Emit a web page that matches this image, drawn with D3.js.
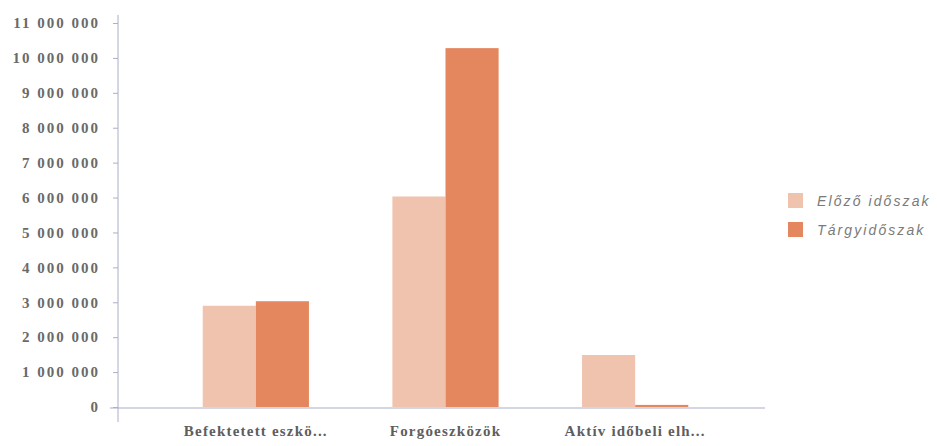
<!DOCTYPE html>
<html>
<head>
<meta charset="utf-8">
<script src="https://cdn.jsdelivr.net/npm/d3@7"></script>
<style>
  body { margin: 0; background: #fff; }
  svg { display: block; }
</style>
</head>
<body>
<div id="chart"></div>
<script>
var categories = ["Befektetett eszkö...", "Forgóeszközök", "Aktív időbeli elh..."];
var seriesNames = ["Előző időszak", "Tárgyidőszak"];
var previous = [2900000, 6030000, 1490000];
var current = [3030000, 10280000, 60000];
var yTicks = [0, 1000000, 2000000, 3000000, 4000000, 5000000, 6000000,
              7000000, 8000000, 9000000, 10000000, 11000000];
var colors = ["#efc3ad", "#e4875f"];

var width = 937, height = 446;

var svg = d3.select("#chart").append("svg")
    .attr("width", width)
    .attr("height", height);

var y = d3.scaleLinear().domain([0, 11000000]).range([407, 23]);

var x0 = d3.scaleBand()
    .domain(categories)
    .range([161, 730])
    .paddingInner(0.44)
    .paddingOuter(0.22);

var x1 = d3.scaleBand()
    .domain(seriesNames)
    .range([0, x0.bandwidth()]);

var loc = d3.formatLocale({decimal: ",", thousands: " ", grouping: [3], currency: ["", ""]});
var fmt = loc.format(",d");

// y axis
var yAxis = svg.append("g")
    .attr("transform", "translate(118,0)")
    .call(d3.axisLeft(y).tickValues(yTicks).tickFormat(fmt).tickSize(5).tickPadding(13));
yAxis.select(".domain").remove();
yAxis.selectAll(".tick line").attr("stroke", "#a9b0c8");
yAxis.selectAll(".tick text")
    .attr("font-family", "'Liberation Serif', 'DejaVu Serif', serif")
    .attr("font-weight", "bold")
    .attr("font-size", 15)
    .attr("letter-spacing", "2px")
    .attr("fill", "#6a6a6a");

svg.append("line")
    .attr("x1", 118).attr("x2", 118)
    .attr("y1", 15).attr("y2", 422)
    .attr("stroke", "#a9b0c8").attr("stroke-width", 1);

// bars
var rows = categories.map(function(c, i) {
  return {cat: c, vals: [previous[i], current[i]]};
});

var groups = svg.selectAll(".grp")
    .data(rows)
  .enter().append("g")
    .attr("class", "grp")
    .attr("transform", function(d) { return "translate(" + x0(d.cat) + ",0)"; });

groups.selectAll("rect")
    .data(function(d) { return d.vals.map(function(v, j) { return {name: seriesNames[j], v: v, j: j}; }); })
  .enter().append("rect")
    .attr("x", function(d) { return x1(d.name); })
    .attr("width", x1.bandwidth())
    .attr("y", function(d) { return y(d.v); })
    .attr("height", function(d) { return y(0) - y(d.v); })
    .attr("fill", function(d) { return colors[d.j]; });

// baseline
svg.append("line")
    .attr("x1", 110).attr("x2", 765)
    .attr("y1", 408).attr("y2", 408)
    .attr("stroke", "#a9b0c8").attr("stroke-width", 1.2);

// x labels
var xAxis = svg.append("g")
    .attr("transform", "translate(0,408)")
    .call(d3.axisBottom(x0).tickSize(0).tickPadding(17));
xAxis.select(".domain").remove();
xAxis.selectAll(".tick text")
    .attr("font-family", "'Liberation Serif', 'DejaVu Serif', serif")
    .attr("font-weight", "bold")
    .attr("font-size", 15)
    .attr("letter-spacing", "1.2px")
    .attr("fill", "#5e5e5e");

// legend
var legend = svg.selectAll(".leg")
    .data(seriesNames)
  .enter().append("g")
    .attr("class", "leg")
    .attr("transform", function(d, i) { return "translate(788," + (193 + i * 29) + ")"; });

legend.append("rect")
    .attr("width", 15).attr("height", 15)
    .attr("fill", function(d, i) { return colors[i]; });

legend.append("text")
    .attr("x", 29).attr("y", 13)
    .attr("font-family", "'Liberation Sans', Arial, sans-serif")
    .attr("font-style", "italic")
    .attr("font-size", 14)
    .attr("letter-spacing", "2.1px")
    .attr("fill", "#7a7a7a")
    .text(function(d) { return d; });
</script>
</body>
</html>
